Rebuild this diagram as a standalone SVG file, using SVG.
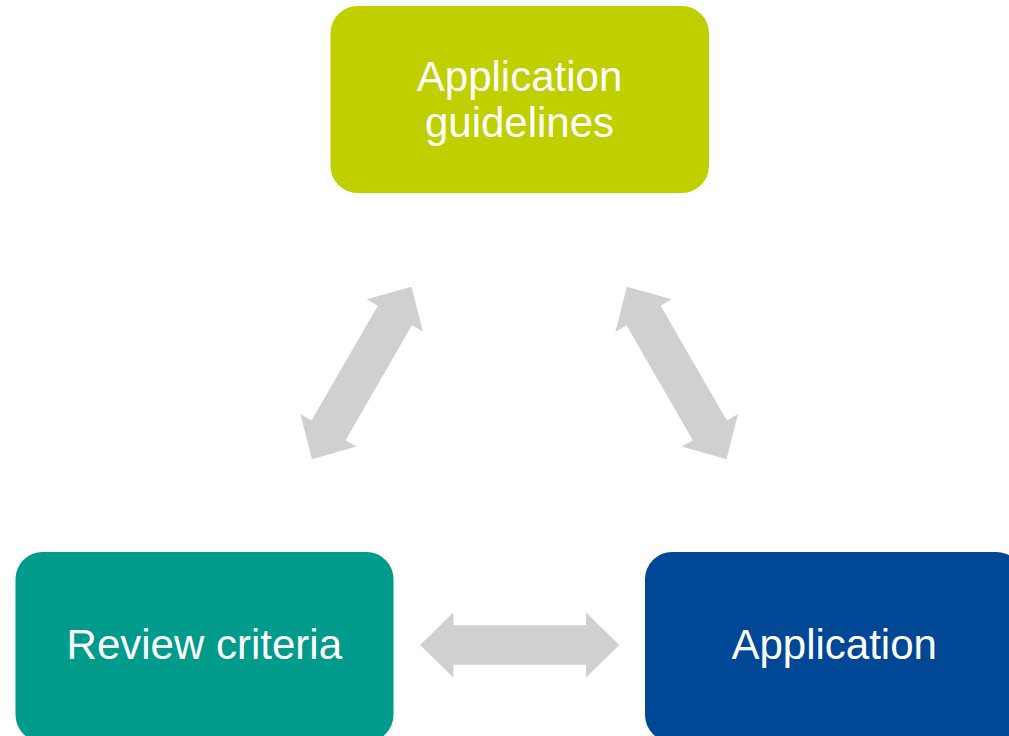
<svg xmlns="http://www.w3.org/2000/svg" width="1009" height="736" viewBox="0 0 1009 736">
<defs>
<style>
.lbl{font-family:"Liberation Sans",Arial,sans-serif;font-size:42px;fill:#ffffff;text-anchor:middle}
.arr{fill:#D0D0D0}
</style>
<path id="dbl" d="M -99.6 0 L -66.3 -32.5 L -66.3 -19.7 L 66.3 -19.7 L 66.3 -32.5 L 99.6 0 L 66.3 32.5 L 66.3 19.7 L -66.3 19.7 L -66.3 32.5 Z"/>
</defs>
<rect width="1009" height="736" fill="#ffffff"/>
<g id="connectors">
<use href="#dbl" class="arr" transform="translate(361.7 372.9) rotate(-60)"/>
<use href="#dbl" class="arr" transform="translate(676.7 372.9) rotate(60)"/>
<use href="#dbl" class="arr" transform="translate(519.7 645)"/>
</g>
<g id="node-guidelines">
<rect x="330.5" y="6" width="378.5" height="187" rx="27" fill="#C0CF00"/>
<text class="lbl" x="519.5" y="91">Application</text>
<text class="lbl" x="519.5" y="136.5">guidelines</text>
</g>
<g id="node-review">
<rect x="15.5" y="552" width="378" height="190" rx="27" fill="#009B8A"/>
<text class="lbl" x="204.3" y="658.5">Review criteria</text>
</g>
<g id="node-application">
<rect x="645" y="552" width="378" height="190" rx="27" fill="#004795"/>
<text class="lbl" x="834.2" y="658.5">Application</text>
</g>
</svg>
